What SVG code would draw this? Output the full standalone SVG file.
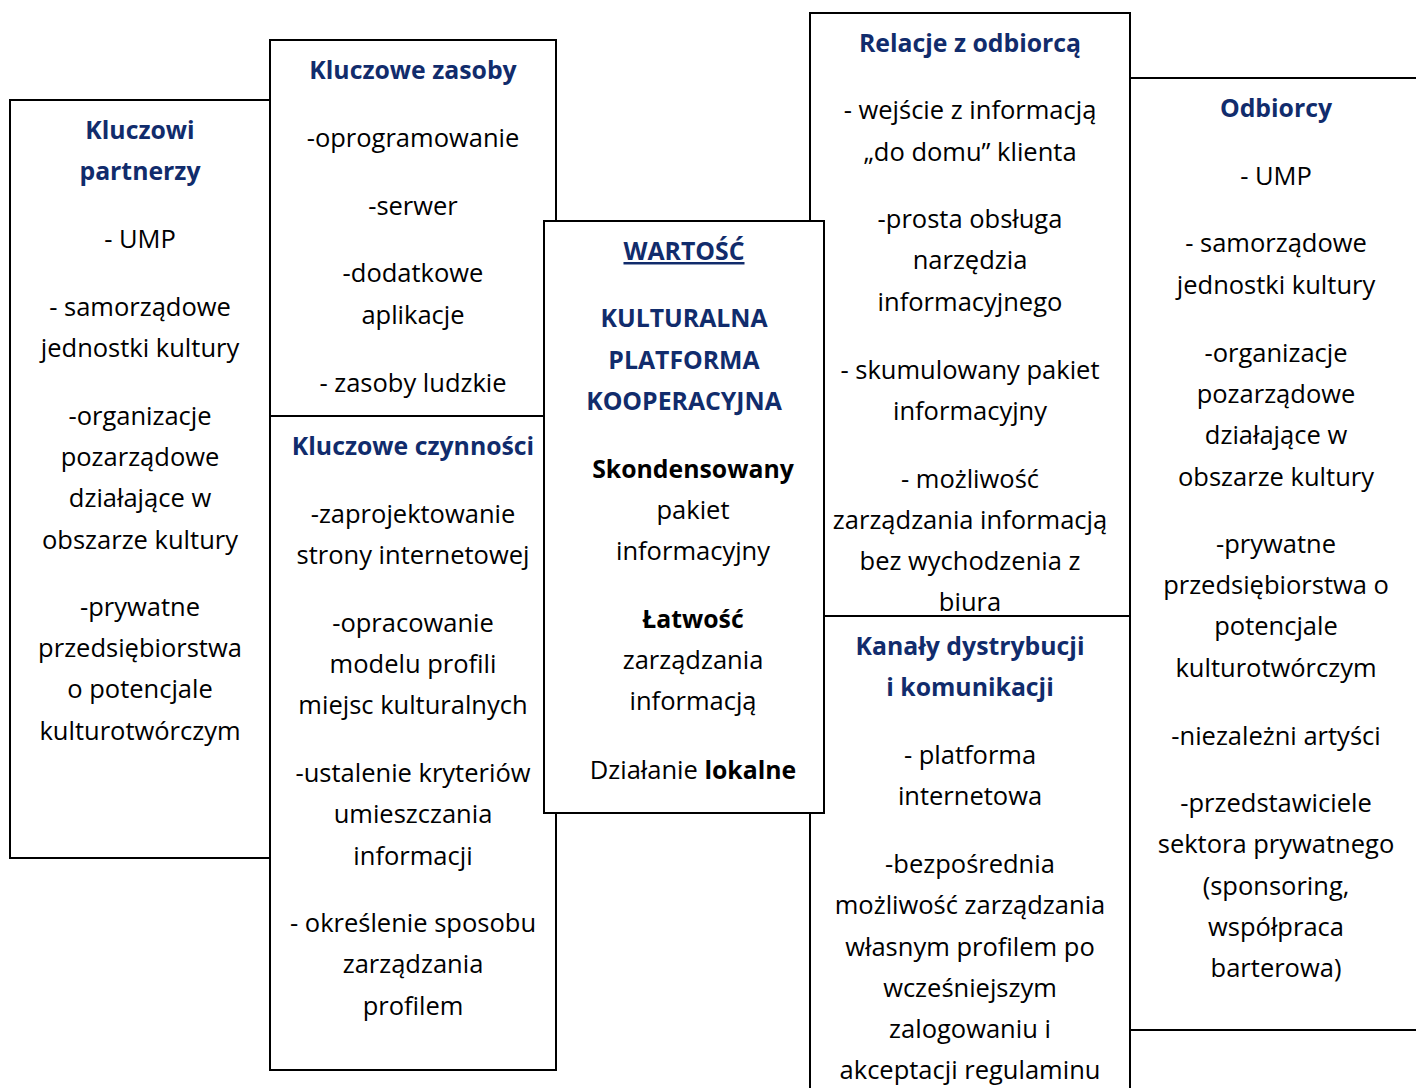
<svg xmlns="http://www.w3.org/2000/svg" width="1416" height="1088" viewBox="0 0 1416 1088">
<style>
.box{fill:#fff;stroke:#000;stroke-width:2}
text{font-family:"Open Sans","Liberation Sans",sans-serif;font-size:25.5px;text-anchor:middle;fill:#000}
.h{font-weight:bold;fill:#112c6c;font-size:24.8px}
.b{font-weight:bold;font-size:24.8px}
</style>
<rect width="1416" height="1088" fill="#fff"/>
<g id="partnerzy">
<rect class="box" x="10" y="100" width="260" height="758"/>
<text class="h" x="140" y="139">Kluczowi</text>
<text class="h" x="140" y="180">partnerzy</text>
<text x="140" y="248">- UMP</text>
<text x="140" y="316">- samorządowe</text>
<text x="140" y="357">jednostki kultury</text>
<text x="140" y="425">-organizacje</text>
<text x="140" y="466">pozarządowe</text>
<text x="140" y="507">działające w</text>
<text x="140" y="549">obszarze kultury</text>
<text x="140" y="616">-prywatne</text>
<text x="140" y="657">przedsiębiorstwa</text>
<text x="140" y="698">o potencjale</text>
<text x="140" y="740">kulturotwórczym</text>
</g>
<g id="zasoby">
<rect class="box" x="270" y="40" width="286" height="376"/>
<text class="h" x="413" y="79">Kluczowe zasoby</text>
<text x="413" y="147">-oprogramowanie</text>
<text x="413" y="215">-serwer</text>
<text x="413" y="282">-dodatkowe</text>
<text x="413" y="324">aplikacje</text>
<text x="413" y="392">- zasoby ludzkie</text>
</g>
<g id="czynnosci">
<rect class="box" x="270" y="416" width="286" height="654"/>
<text class="h" x="413" y="455">Kluczowe czynności</text>
<text x="413" y="523">-zaprojektowanie</text>
<text x="413" y="564">strony internetowej</text>
<text x="413" y="632">-opracowanie</text>
<text x="413" y="673">modelu profili</text>
<text x="413" y="714">miejsc kulturalnych</text>
<text x="413" y="782">-ustalenie kryteriów</text>
<text x="413" y="823">umieszczania</text>
<text x="413" y="865">informacji</text>
<text x="413" y="932">- określenie sposobu</text>
<text x="413" y="973">zarządzania</text>
<text x="413" y="1015">profilem</text>
</g>
<g id="relacje">
<rect class="box" x="810" y="13" width="320" height="603"/>
<text class="h" x="970" y="52">Relacje z odbiorcą</text>
<text x="970" y="119">- wejście z informacją</text>
<text x="970" y="161">„do domu” klienta</text>
<text x="970" y="228">-prosta obsługa</text>
<text x="970" y="269">narzędzia</text>
<text x="970" y="311">informacyjnego</text>
<text x="970" y="379">- skumulowany pakiet</text>
<text x="970" y="420">informacyjny</text>
<text x="970" y="488">- możliwość</text>
<text x="970" y="529">zarządzania informacją</text>
<text x="970" y="570">bez wychodzenia z</text>
<text x="970" y="611">biura</text>
</g>
<g id="kanaly">
<rect class="box" x="810" y="616" width="320" height="490"/>
<text class="h" x="970" y="655">Kanały dystrybucji</text>
<text class="h" x="970" y="696">i komunikacji</text>
<text x="970" y="764">- platforma</text>
<text x="970" y="805">internetowa</text>
<text x="970" y="873">-bezpośrednia</text>
<text x="970" y="914">możliwość zarządzania</text>
<text x="970" y="956">własnym profilem po</text>
<text x="970" y="997">wcześniejszym</text>
<text x="970" y="1038">zalogowaniu i</text>
<text x="970" y="1079">akceptacji regulaminu</text>
</g>
<g id="odbiorcy">
<rect class="box" x="1130" y="78" width="300" height="952"/>
<text class="h" x="1276" y="117">Odbiorcy</text>
<text x="1276" y="185">- UMP</text>
<text x="1276" y="252">- samorządowe</text>
<text x="1276" y="294">jednostki kultury</text>
<text x="1276" y="362">-organizacje</text>
<text x="1276" y="403">pozarządowe</text>
<text x="1276" y="444">działające w</text>
<text x="1276" y="486">obszarze kultury</text>
<text x="1276" y="553">-prywatne</text>
<text x="1276" y="594">przedsiębiorstwa o</text>
<text x="1276" y="635">potencjale</text>
<text x="1276" y="677">kulturotwórczym</text>
<text x="1276" y="745">-niezależni artyści</text>
<text x="1276" y="812">-przedstawiciele</text>
<text x="1276" y="853">sektora prywatnego</text>
<text x="1276" y="895">(sponsoring,</text>
<text x="1276" y="936">współpraca</text>
<text x="1276" y="977">barterowa)</text>
</g>
<g id="wartosc">
<rect class="box" x="544" y="221" width="280" height="592"/>
<text class="h" x="684" y="260" text-decoration="underline">WARTOŚĆ</text>
<text class="h" x="684" y="327">KULTURALNA</text>
<text class="h" x="684" y="369">PLATFORMA</text>
<text class="h" x="684" y="410">KOOPERACYJNA</text>
<text class="b" x="693" y="478">Skondensowany</text>
<text x="693" y="519">pakiet</text>
<text x="693" y="560">informacyjny</text>
<text class="b" x="693" y="628">Łatwość</text>
<text x="693" y="669">zarządzania</text>
<text x="693" y="710">informacją</text>
<text x="693" y="779">Działanie <tspan class="b">lokalne</tspan></text>
</g>
<g id="connectors"></g>
</svg>
